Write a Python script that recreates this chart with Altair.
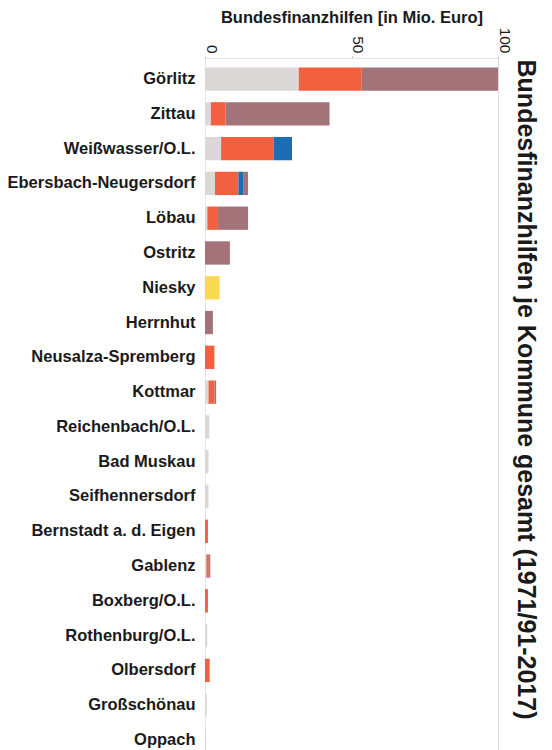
import altair as alt
import pandas as pd

kommunen = ["Görlitz", "Zittau", "Weißwasser/O.L.", "Ebersbach-Neugersdorf", "Löbau",
            "Ostritz", "Niesky", "Herrnhut", "Neusalza-Spremberg", "Kottmar",
            "Reichenbach/O.L.", "Bad Muskau", "Seifhennersdorf", "Bernstadt a. d. Eigen",
            "Gablenz", "Boxberg/O.L.", "Rothenburg/O.L.", "Olbersdorf", "Großschönau", "Oppach"]

programme = ["Programm A", "Programm B", "Programm C", "Programm D", "Programm E"]
farben = ["#dcd8d8", "#f2603f", "#1d6db2", "#a3737a", "#f8da4e"]

prog_a = [32.0, 2.0, 5.5, 3.4, 0.8, 0.0, 0.0, 0.0, 0.0, 1.2, 1.5, 1.2, 1.2, 0.0, 0.5, 0.0, 0.8, 0.0, 0.6, 0.4]
prog_b = [21.5, 5.0, 18.0, 8.0, 3.6, 0.0, 0.0, 0.0, 3.2, 2.0, 0.0, 0.0, 0.0, 1.0, 0.8, 1.0, 0.0, 1.6, 0.0, 0.0]
prog_c = [0.0, 0.0, 6.2, 1.6, 0.0, 0.0, 0.0, 0.0, 0.0, 0.0, 0.0, 0.0, 0.0, 0.0, 0.0, 0.0, 0.0, 0.0, 0.0, 0.0]
prog_d = [46.5, 35.5, 0.0, 1.7, 10.3, 8.5, 0.0, 2.7, 0.0, 0.6, 0.0, 0.0, 0.0, 0.0, 0.5, 0.0, 0.0, 0.0, 0.0, 0.0]
prog_e = [0.0, 0.0, 0.0, 0.0, 0.0, 0.0, 5.0, 0.0, 0.0, 0.0, 0.0, 0.0, 0.0, 0.0, 0.0, 0.0, 0.0, 0.0, 0.0, 0.0]

serien = [prog_a, prog_b, prog_c, prog_d, prog_e]
rows = []
for pi, (p, werte) in enumerate(zip(programme, serien)):
    for k, v in zip(kommunen, werte):
        rows.append({"Kommune": k, "Programm": p, "Wert": v, "Ordnung": pi})
df = pd.DataFrame(rows)

font = "Liberation Sans"

chart = alt.Chart(df).mark_bar().encode(
    y=alt.Y("Kommune:N", sort=kommunen,
            scale=alt.Scale(paddingInner=0.33, paddingOuter=0.27),
            axis=alt.Axis(title=None, ticks=False, domain=True, domainColor="#e4e4e4",
                          labelFont=font, labelFontSize=16.5, labelFontWeight="bold",
                          labelColor="#1a1a1a", labelPadding=10, labelLimit=300)),
    x=alt.X("Wert:Q", stack="zero",
            scale=alt.Scale(domain=[0, 100], nice=False),
            axis=alt.Axis(orient="top", values=[0, 50, 100], labelAngle=90,
                          labelFlush=False,
                          title="Bundesfinanzhilfen [in Mio. Euro]",
                          titleFont=font, titleFontSize=16.5, titleFontWeight="bold",
                          titleColor="#1a1a1a", titlePadding=2,
                          labelFont=font, labelFontSize=15.5, labelColor="#1a1a1a",
                          labelPadding=3, labelOffset=6, tickSize=2, tickColor="#bbbbbb",
                          domainColor="#e4e4e4", grid=False)),
    color=alt.Color("Programm:N", scale=alt.Scale(domain=programme, range=farben), legend=None),
    order=alt.Order("Ordnung:Q"),
).properties(
    width=293,
    height=703,
    autosize=alt.AutoSizeParams(type="none"),
    padding={"left": 197, "top": 50, "right": 46, "bottom": 0},
    title=alt.TitleParams("Bundesfinanzhilfen je Kommune gesamt (1971/91-2017)",
                          orient="right", font=font, fontSize=25, fontWeight="bold",
                          color="#1a1a1a", offset=2, anchor="middle", dx=-20),
).configure_view(stroke=None).configure(background="white")

chart.save("out.html", embed_options={"renderer": "svg", "actions": False})
